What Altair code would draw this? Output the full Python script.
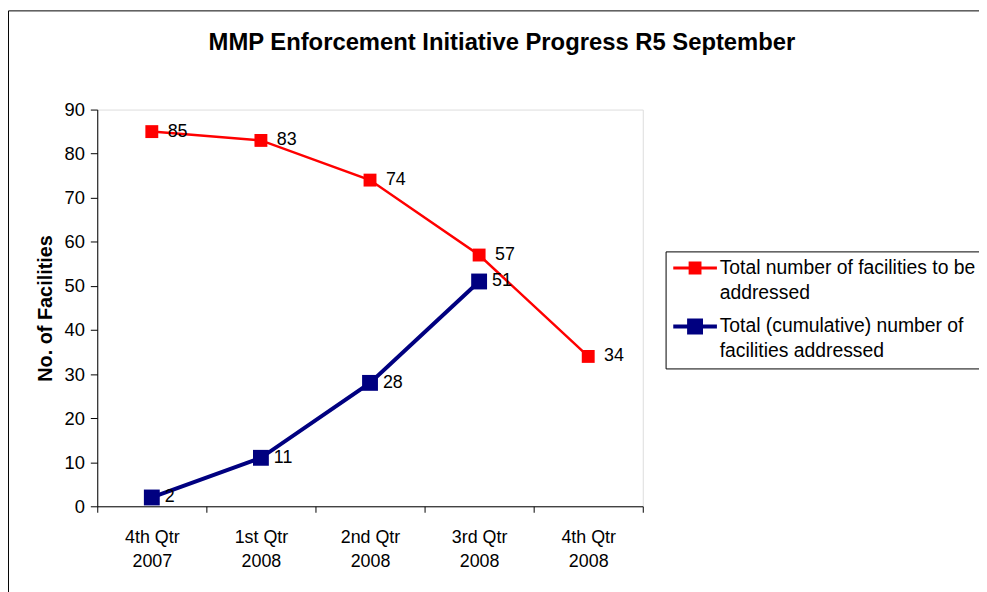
import altair as alt
import pandas as pd

quarters = ["4th Qtr|2007", "1st Qtr|2008", "2nd Qtr|2008", "3rd Qtr|2008", "4th Qtr|2008"]
to_be_addressed = [85, 83, 74, 57, 34]
addressed = [2, 11, 28, 51]
series_names = ["Total number of facilities to be|addressed",
                "Total (cumulative) number of|facilities addressed"]
colors = ["#FF0000", "#000080"]
y_ticks = [0, 10, 20, 30, 40, 50, 60, 70, 80, 90]

rows = []
for q, v in zip(quarters, to_be_addressed):
    rows.append({"quarter": q, "value": v, "series": series_names[0]})
for q, v in zip(quarters, addressed):
    rows.append({"quarter": q, "value": v, "series": series_names[1]})
df = pd.DataFrame(rows)

FONT = "Liberation Sans"

x_enc = alt.X("quarter:N", sort=quarters,
              scale=alt.Scale(type="band", paddingInner=0, paddingOuter=0),
              axis=alt.Axis(title=None, labelExpr="split(datum.label, '|')", labelAngle=0,
                            tickBand="extent", labelFontSize=18, labelFont=FONT,
                            labelColor="black", labelPadding=16, tickSize=6,
                            domainColor="black", tickColor="black"))
y_enc = alt.Y("value:Q", scale=alt.Scale(domain=[0, 90], nice=False),
              axis=alt.Axis(title="No. of Facilities", values=y_ticks, grid=False,
                            labelFontSize=18.5, labelFont=FONT, labelColor="black",
                            labelPadding=6, tickSize=7, titleFontSize=20, titleFont=FONT,
                            titleFontWeight="bold", titleColor="black", titlePadding=9,
                            domainColor="black", tickColor="black"))

color_scale = alt.Scale(domain=series_names, range=colors)

base = alt.Chart(df)

red = base.transform_filter(alt.datum.series == series_names[0])
blue = base.transform_filter(alt.datum.series == series_names[1])

red_line = red.mark_line(color=colors[0], strokeWidth=2.5).encode(x=x_enc, y=y_enc)
red_pts = red.mark_point(shape="square", filled=True, size=169, opacity=1,
                         color=colors[0], strokeWidth=0).encode(x=x_enc, y=y_enc)
red_txt = red.mark_text(align="left", baseline="middle", dx=16, fontSize=18,
                        font=FONT, color="black").encode(x=x_enc, y=y_enc, text="value:Q")

blue_line = blue.mark_line(color=colors[1], strokeWidth=4).encode(x=x_enc, y=y_enc)
blue_pts = blue.mark_point(shape="square", filled=True, size=256, opacity=1,
                           color=colors[1], strokeWidth=0).encode(x=x_enc, y=y_enc)
blue_txt = blue.mark_text(align="left", baseline="middle", dx=13, fontSize=18,
                          font=FONT, color="black").encode(x=x_enc, y=y_enc, text="value:Q")

# legend symbols: a line with a square marker (unit = 9 px, symbol centre at 9 px)
path_red = "M-1,-0.17H3.89V0.17H-1Z M0.72,-0.72H2.16V0.72H0.72Z"
path_blue = "M-1,-0.22H3.89V0.22H-1Z M0.55,-0.89H2.33V0.89H0.55Z"

leg = alt.Legend(title=None, orient="none", legendX=573, legendY=143,
                 strokeColor="black", fillColor="white", padding=7,
                 symbolSize=324, symbolStrokeWidth=0, symbolOpacity=1,
                 labelFontSize=19.5, labelFont=FONT, labelColor="black",
                 labelOffset=28, labelLimit=500, rowPadding=13,
                 labelExpr="split(datum.label, '|')")

legend_layer = base.mark_point(filled=True, opacity=0, strokeWidth=0).encode(
    x=x_enc, y=y_enc,
    color=alt.Color("series:N", scale=color_scale, legend=leg),
    shape=alt.Shape("series:N", scale=alt.Scale(domain=series_names, range=[path_red, path_blue]),
                    legend=leg),
)

border = alt.Chart(pd.DataFrame({"k": [0]})).mark_rect(
    fill=None, stroke="black", strokeWidth=1).encode(
    x=alt.value(-89.5), x2=alt.value(900), y=alt.value(-99.5), y2=alt.value(600))

chart = alt.layer(border, red_line, blue_line, red_pts, blue_pts, red_txt, blue_txt,
                  legend_layer).properties(
    width=550, height=400,
    title=alt.Title("MMP Enforcement Initiative Progress R5 September", fontSize=24,
                    font=FONT, fontWeight="bold", color="black", anchor="middle",
                    baseline="alphabetic", offset=-64, dx=133),
    autosize=alt.AutoSizeParams(type="none"),
    padding={"left": 90, "top": 100, "right": 339, "bottom": 84},
).configure_view(stroke="#808080", strokeWidth=1).configure(
    style={"guide-label": {"lineHeight": 25}}
)

chart.save("out.html", embed_options={"renderer": "svg", "actions": False})
